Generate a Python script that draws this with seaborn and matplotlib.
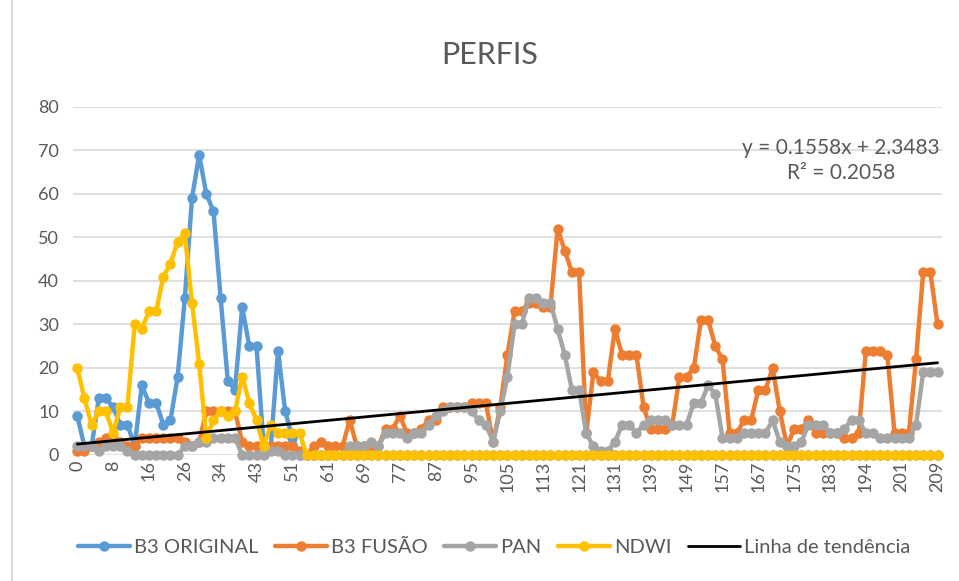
import numpy as np
import pandas as pd
import matplotlib
matplotlib.use("Agg")
import matplotlib.pyplot as plt
from matplotlib.lines import Line2D
import seaborn as sns

# tick labels shown every 5 categories
tick_labels = ["0", "8", "16", "26", "34", "43", "51", "61", "69", "77", "87", "95", "105",
               "113", "121", "131", "139", "149", "157", "167", "175", "183", "194", "201", "209"]

b3_original = [9, 2, 2, 13, 13, 11, 7, 7, 2, 16, 12, 12, 7, 8, 18, 36, 59, 69, 60, 56,
               36, 17, 15, 34, 25, 25, 2, 2, 24, 10, 4, 0] + [0] * 89

b3_fusao = [1, 1, 2, 3, 4, 4, 3, 2, 2, 4, 4, 4, 4, 4, 4, 3, 2, 3, 10, 10,
            10, 10, 10, 3, 2, 2, 2, 2, 2, 2, 2, 1, 0, 2, 3, 2, 2, 2, 8, 2,
            2, 2, 2, 6, 6, 9, 5, 5, 6, 8, 8, 11, 11, 11, 11, 12, 12, 12, 3, 11,
            23, 33, 33, 35, 35, 34, 34, 52, 47, 42, 42, 5, 19, 17, 17, 29, 23, 23, 23, 11,
            6, 6, 6, 7, 18, 18, 20, 31, 31, 25, 22, 5, 5, 8, 8, 15, 15, 20, 10, 2,
            6, 6, 8, 5, 5, 5, 5, 4, 4, 5, 24, 24, 24, 23, 5, 5, 5, 22, 42, 42,
            30]

pan = [2, 2, 2, 1, 2, 2, 2, 1, 0, 0, 0, 0, 0, 0, 0, 2, 2, 3, 3, 4,
       4, 4, 4, 0, 0, 0, 0, 1, 1, 0, 0, 0, 0, 0, 0, 0, 0, 0, 2, 2,
       2, 3, 2, 5, 5, 5, 4, 5, 5, 7, 9, 10, 11, 11, 11, 10, 8, 7, 3, 10,
       18, 30, 30, 36, 36, 35, 35, 29, 23, 15, 15, 5, 2, 1, 1, 3, 7, 7, 5, 7,
       8, 8, 8, 7, 7, 7, 12, 12, 16, 14, 4, 4, 4, 5, 5, 5, 5, 8, 3, 2,
       2, 3, 7, 7, 7, 5, 5, 6, 8, 8, 5, 5, 4, 4, 4, 4, 4, 7, 19, 19,
       19]

ndwi = [20, 13, 7, 10, 10, 5, 11, 11, 30, 29, 33, 33, 41, 44, 49, 51, 35, 21, 4, 8,
        10, 9, 10, 18, 12, 8, 2, 7, 5, 5, 5, 5] + [0] * 89

# Excel linear trendline (x = 1..n)
trend_slope = 0.1558
trend_intercept = 2.3483
trend_eq = "y = 0.1558x + 2.3483"
trend_r2 = "R² = 0.2058"

series = {"B3 ORIGINAL": b3_original, "B3 FUSÃO": b3_fusao, "PAN": pan, "NDWI": ndwi}
colors = {"B3 ORIGINAL": "#5B9BD5", "B3 FUSÃO": "#ED7D31", "PAN": "#A5A5A5", "NDWI": "#FFC000"}

n = len(b3_original)
idx = np.arange(n)

sns.set_style("white")
plt.rcParams["font.family"] = ["Lato", "DejaVu Sans"]
txt = "#595959"

fig = plt.figure(figsize=(9.59, 5.81), dpi=100)
ax = fig.add_axes([0.0761, 0.2169, 0.906, 0.599])

for name, vals in series.items():
    df = pd.DataFrame({"x": idx, "y": vals})
    sns.lineplot(data=df, x="x", y="y", ax=ax, color=colors[name], marker="o",
                 markersize=7.5, markeredgewidth=0, linewidth=3.2, label=name,
                 clip_on=False, zorder=3)

trend_y = trend_slope * (idx + 1) + trend_intercept
sns.lineplot(x=idx, y=trend_y, ax=ax, color="black", linewidth=2,
             label="Linha de tendência", zorder=4)

ax.set_xlim(-0.6, n - 0.4)
ax.set_ylim(0, 80)
ax.set_yticks(range(0, 81, 10))
ax.set_xticks(idx[::5])
ax.set_xticklabels(tick_labels, rotation=90)
ax.tick_params(axis="both", labelsize=13, colors=txt, length=0)
ax.tick_params(axis="y", pad=10)
ax.tick_params(axis="x", pad=4)
ax.yaxis.grid(True, color="#D9D9D9", linewidth=1.2)
ax.set_axisbelow(True)
for s in ax.spines.values():
    s.set_visible(False)
ax.set_xlabel("")
ax.set_ylabel("")

handles, labels = ax.get_legend_handles_labels()
ax.get_legend().remove()
fig.legend(handles, labels, loc="center", bbox_to_anchor=(0.515, 0.0585), ncol=5,
           frameon=False, fontsize=14.5, labelcolor=txt, handlelength=2.6,
           columnspacing=0.8, handletextpad=0.2)

fig.text(0.511, 0.905, "PERFIS", ha="center", va="center", fontsize=22, color=txt)
fig.text(0.980, 0.745, trend_eq, ha="right", va="center", fontsize=15, color=txt)
fig.text(0.877, 0.702, trend_r2, ha="center", va="center", fontsize=15, color=txt)

# chart area border on the left
fig.add_artist(Line2D([11.5 / 959, 11.5 / 959], [0, 1], transform=fig.transFigure,
                      color="#D9D9D9", linewidth=1.5))

fig.savefig("out.png", dpi=100)
